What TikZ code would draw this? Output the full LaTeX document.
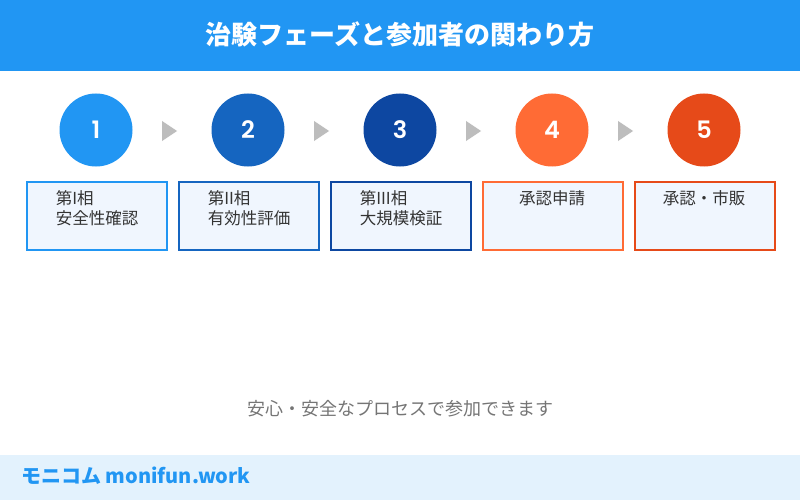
\documentclass[tikz,border=0pt]{standalone}
\usepackage{fontspec}
\setmainfont{Noto Sans CJK JP}
\newfontfamily\numfont{Poppins SemiBold}
\definecolor{hdr}{HTML}{2196F3}
\definecolor{cA}{HTML}{2196F3}
\definecolor{cB}{HTML}{1565C0}
\definecolor{cC}{HTML}{0D47A1}
\definecolor{cD}{HTML}{FF6B35}
\definecolor{cE}{HTML}{E64A19}
\definecolor{boxfill}{HTML}{F0F6FE}
\definecolor{txt}{HTML}{333333}
\definecolor{gtxt}{HTML}{757575}
\definecolor{arr}{HTML}{BDBDBD}
\definecolor{foot}{HTML}{E3F2FD}
\begin{document}
\begin{tikzpicture}[x=1pt,y=-1pt,
  stepcircle/.style={circle,minimum size=73pt,inner sep=0pt,text=white,font=\numfont\fontsize{24}{24}\selectfont},
  stepbox/.style={draw,line width=2pt,fill=boxfill,minimum width=140pt,minimum height=68pt,inner sep=0pt},
  boxtext/.style={anchor=north,align=left,text=txt,font=\fontsize{16.5}{20}\selectfont,inner sep=0pt},
  arrowtri/.style={fill=arr,draw=none}]
\useasboundingbox (0,0) rectangle (800,500);
\fill[white] (0,0) rectangle (800,500);
\fill[hdr] (0,0) rectangle (800,71);
\node[text=white,font=\fontsize{26}{26}\selectfont\bfseries] (title) at (400,34) {治験フェーズと参加者の関わり方};
% circles
\node[stepcircle,fill=cA] (c1) at (96,130) {1};
\node[stepcircle,fill=cB] (c2) at (248,130) {2};
\node[stepcircle,fill=cC] (c3) at (400,130) {3};
\node[stepcircle,fill=cD] (c4) at (552,130) {4};
\node[stepcircle,fill=cE] (c5) at (704,130) {5};
% arrows
\foreach \x in {162,314,466,618}{
  \fill[arrowtri] (\x,121) -- (\x+15,131) -- (\x,141) -- cycle;
}
% boxes
\node[stepbox,draw=cA] (b1) at (96.5,215.5) {};
\node[stepbox,draw=cB] (b2) at (248.5,215.5) {};
\node[stepbox,draw=cC] (b3) at (400.5,215.5) {};
\node[stepbox,draw=cD] (b4) at (552.5,215.5) {};
\node[stepbox,draw=cE] (b5) at (704.5,215.5) {};
\node[boxtext] (t1) at (97,190) {第I相\\安全性確認};
\node[boxtext] (t2) at (249,190) {第II相\\有効性評価};
\node[boxtext] (t3) at (401,190) {第III相\\大規模検証};
\node[boxtext] (t4) at (552,190) {承認申請};
\node[boxtext] (t5) at (704,190) {承認・市販};
% bottom text
\node[text=gtxt,font=\fontsize{18}{18}\selectfont] (note) at (400,409) {安心・安全なプロセスで参加できます};
% footer
\fill[foot] (0,455) rectangle (800,500);
\node[anchor=west,text=hdr,font=\fontsize{20}{20}\selectfont\bfseries,inner sep=0pt] (brand) at (21,476) {モニコム monifun.work};
\end{tikzpicture}
\end{document}
